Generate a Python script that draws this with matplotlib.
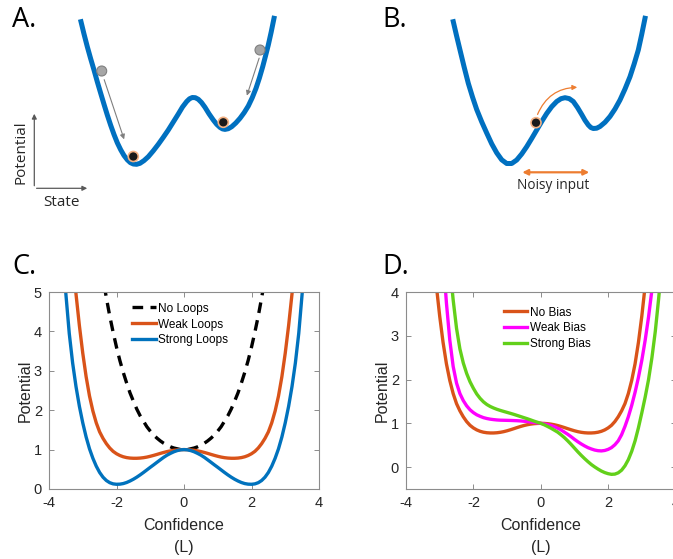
import numpy as np
import matplotlib
matplotlib.use('Agg')
import matplotlib.pyplot as plt
from matplotlib.patches import Circle

plt.rcParams['font.family'] = 'Liberation Sans'
plt.rcParams['axes.unicode_minus'] = False

L = np.round(np.arange(-3.6, 3.65, 0.1), 1)

no_loops = [16.0, 14.7, 13.5, 12.4, 11.4, 10.4, 9.5, 8.7, 7.9, 7.18,
            6.51, 5.91, 5.35, 4.85, 4.39, 3.98, 3.6, 3.26, 2.96, 2.69,
            2.44, 2.23, 2.03, 1.86, 1.72, 1.58, 1.47, 1.37, 1.29, 1.22,
            1.16, 1.11, 1.07, 1.04, 1.02, 1.0, 1.0,
            1.0, 1.02, 1.04, 1.07, 1.11, 1.16, 1.22, 1.29, 1.37, 1.47,
            1.58, 1.72, 1.86, 2.03, 2.23, 2.44, 2.69, 2.96, 3.26, 3.6,
            3.98, 4.39, 4.85, 5.35, 5.91, 6.51, 7.18, 7.9, 8.7, 9.5,
            10.4, 11.4, 12.4, 13.5, 14.7, 16.0]
weak_loops = [9.15, 7.95, 6.85, 5.85, 4.95, 4.15, 3.45, 2.85, 2.36, 1.98,
              1.68, 1.45, 1.285, 1.15, 1.04, 0.955, 0.895, 0.85, 0.818, 0.797,
              0.785, 0.78, 0.78, 0.785, 0.795, 0.81, 0.83, 0.853, 0.878, 0.904,
              0.928, 0.95, 0.968, 0.982, 0.992, 0.998, 1.0,
              0.998, 0.992, 0.982, 0.968, 0.95, 0.928, 0.904, 0.878, 0.853, 0.83,
              0.81, 0.795, 0.785, 0.78, 0.78, 0.785, 0.797, 0.818, 0.85, 0.895,
              0.955, 1.04, 1.15, 1.285, 1.45, 1.68, 1.98, 2.36, 2.85, 3.45,
              4.15, 4.95, 5.85, 6.85, 7.95, 9.15]
strong_loops = [6.1, 4.95, 3.95, 3.2, 2.6, 2.1, 1.68, 1.32, 1.02, 0.78,
                0.58, 0.42, 0.3, 0.215, 0.16, 0.13, 0.12, 0.123, 0.138, 0.165,
                0.203, 0.248, 0.3, 0.358, 0.42, 0.485, 0.55, 0.613, 0.678, 0.742,
                0.805, 0.86, 0.905, 0.945, 0.975, 0.994, 1.0,
                0.994, 0.975, 0.945, 0.905, 0.86, 0.805, 0.742, 0.678, 0.613, 0.55,
                0.485, 0.42, 0.358, 0.3, 0.248, 0.203, 0.165, 0.138, 0.123, 0.12,
                0.13, 0.16, 0.215, 0.3, 0.42, 0.58, 0.78, 1.02, 1.32, 1.68,
                2.1, 2.6, 3.2, 3.95, 4.95, 6.1]

no_bias = weak_loops
weak_bias = [12.5, 11.4, 10.3, 9.2, 8.1, 7.0, 5.9, 4.8, 3.75, 2.9,
             2.3, 1.92, 1.68, 1.52, 1.40, 1.31, 1.245, 1.195, 1.16, 1.13,
             1.11, 1.095, 1.085, 1.077, 1.072, 1.07, 1.068, 1.066, 1.063, 1.06,
             1.055, 1.048, 1.04, 1.03, 1.02, 1.01, 1.0,
             0.987, 0.972, 0.952, 0.925, 0.89, 0.85, 0.80, 0.75, 0.695, 0.635,
             0.58, 0.53, 0.485, 0.445, 0.415, 0.39, 0.375, 0.37, 0.38, 0.405,
             0.445, 0.51, 0.60, 0.74, 0.93, 1.15, 1.41, 1.71, 2.05, 2.44,
             2.9, 3.43, 4.05, 4.75, 5.5, 6.3]
strong_bias = [13.5, 12.5, 11.5, 10.5, 9.5, 8.5, 7.5, 6.5, 5.5, 4.6,
               3.82, 3.17, 2.7, 2.38, 2.14, 1.95, 1.80, 1.67, 1.57, 1.49,
               1.43, 1.385, 1.35, 1.32, 1.295, 1.272, 1.25, 1.228, 1.205, 1.18,
               1.155, 1.13, 1.105, 1.078, 1.05, 1.025, 1.0,
               0.968, 0.93, 0.89, 0.845, 0.80, 0.74, 0.675, 0.60, 0.52, 0.435,
               0.35, 0.27, 0.195, 0.125, 0.06, 0.005, -0.045, -0.09, -0.125, -0.15,
               -0.165, -0.16, -0.13, -0.07, 0.03, 0.17, 0.36, 0.6, 0.9, 1.24,
               1.6, 2.0, 2.5, 3.1, 3.85, 4.7]

labels_c = ['No Loops', 'Weak Loops', 'Strong Loops']
labels_d = ['No Bias', 'Weak Bias', 'Strong Bias']
ticks_x = [-4, -2, 0, 2, 4]

# ---- schematic wells for A / B (pixel coords of the picture) ----
well_a_x = [81, 84, 87.3, 90.6, 94, 97.3, 100.7, 104, 107.3, 110.7, 114, 117.3,
            120.7, 124, 127.3, 130.3, 133.3, 136.6, 140, 144, 148.3, 153.3,
            158.3, 163.3, 168.3, 173.3, 178.3, 182.5, 186.7, 189.5, 192.3, 195.3,
            198.3, 201.5, 205, 209, 213.3, 216.7, 220, 222.5, 225, 228.3, 231.7,
            235.8, 240, 244.2, 248.3, 252.2, 256, 259.4, 262.7, 265.5, 268.3,
            271.2, 274]
well_a_y = [21.7, 34, 46.7, 58.5, 70, 81.8, 93.3, 104.3, 115, 125.3, 134.5, 142.8,
            149.8, 155.5, 159.8, 162.6, 164, 164.3, 163.3, 160.6, 156.7, 150.8,
            144.3, 137.3, 130, 122, 114, 107, 101.5, 98.8, 97.5, 97.7,
            99.3, 102.5, 107.3, 113.8, 120, 124.3, 127.4, 128.9, 129.4, 128.7, 126.7,
            123, 118.3, 112.6, 106, 97.8, 88.3, 78, 66.7, 56, 45,
            32, 18.3]
well_b_x = [453.3, 456.5, 460, 464, 468.3, 472.5, 476.7, 481.7, 486.7, 491.7,
            496.7, 501.7, 506.7, 511.7, 516.7, 521.7, 526.7, 531.7, 536.7, 541.7,
            546.7, 551.7, 556.7, 561, 565, 569.2, 573.3, 577.5, 581.7, 585,
            588.3, 590.8, 593.3, 596.7, 600, 605, 610, 615, 620, 625,
            630, 634.2, 638.3, 641.7, 645]
well_b_y = [21.7, 35.5, 50, 66.5, 83.3, 97, 109.5, 121.8, 133, 143.8,
            152.8, 159.8, 163.5, 163.5, 160, 154, 146.7, 138.5, 130, 121.5,
            113.5, 106.7, 101.5, 98.7, 97.7, 98.6, 101.5, 107.5, 114.5, 120.3,
            125, 127.5, 128.5, 128.2, 126.5, 122.3, 116.5, 109, 100, 89,
            76.7, 63.8, 50, 34.5, 18.3]

W, H = 673, 559
fig = plt.figure(figsize=(W / 100, H / 100), dpi=100)

blue = '#0072BD'
orange = '#D95319'
magenta = '#FF00FF'
green = '#62D01A'

# schematic layer in pixel coordinates
sk = fig.add_axes([0, 0, 1, 1])
sk.set_xlim(0, W)
sk.set_ylim(H, 0)
sk.axis('off')

sk.plot(well_a_x, well_a_y, color='#0070C0', lw=3.6, solid_joinstyle='round')
sk.plot(well_b_x, well_b_y, color='#0070C0', lw=3.6, solid_joinstyle='round')

for (cx, cy) in [(101.7, 71), (260, 50)]:
    sk.add_patch(Circle((cx, cy), 5, facecolor='#A6A6A6', edgecolor='#7F7F7F', lw=0.8, zorder=5))
for (cx, cy) in [(133.3, 156.5), (223.3, 122.3), (536, 122.7)]:
    sk.add_patch(Circle((cx, cy), 5, facecolor='#1a1a1a', edgecolor='#F4B183', lw=1.2, zorder=5))

gray_arrow = dict(arrowstyle='-|>', color='#7F7F7F', lw=0.8, mutation_scale=7)
sk.annotate('', xy=(125, 142), xytext=(103.3, 77), arrowprops=gray_arrow)
sk.annotate('', xy=(246, 98.3), xytext=(260, 55.5), arrowprops=gray_arrow)

axis_arrow = dict(arrowstyle='-|>', color='#595959', lw=0.9, mutation_scale=7)
sk.annotate('', xy=(34.3, 111), xytext=(34.3, 188.5), arrowprops=axis_arrow)
sk.annotate('', xy=(90, 188.3), xytext=(33.8, 188.3), arrowprops=axis_arrow)
sk.text(21.5, 152, 'Potential', rotation=90, ha='center', va='center',
        fontsize=11, family='Open Sans', color='#262626')
sk.text(61.5, 202.5, 'State', ha='center', va='center',
        fontsize=11, family='Open Sans', color='#262626')

sk.annotate('', xy=(580, 87.3), xytext=(536.5, 117),
            arrowprops=dict(arrowstyle='-|>', color='#ED7D31', lw=0.9,
                            mutation_scale=7, connectionstyle='arc3,rad=-0.35'))
sk.annotate('', xy=(592, 172.3), xytext=(519.5, 172.3),
            arrowprops=dict(arrowstyle='<|-|>', color='#ED7D31', lw=1.6, mutation_scale=8))
sk.text(553.5, 185.5, 'Noisy input', ha='center', va='center',
        fontsize=9.8, family='Open Sans', color='#262626')

for lab, (px, py) in zip(['A.', 'B.', 'C.', 'D.'],
                         [(12, 20), (382, 20), (12, 267), (382, 267)]):
    sk.text(px, py, lab, ha='left', va='center', fontsize=19.5,
            family='Open Sans', color='black')


def style_axes(ax):
    for s in ax.spines.values():
        s.set_color('#8c8c8c')
        s.set_linewidth(0.8)
    ax.tick_params(direction='in', top=True, right=True, length=3.5,
                   width=0.7, color='#8c8c8c', labelsize=10.5,
                   labelcolor='#262626', pad=5)
    ax.set_xticks(ticks_x)
    ax.set_xlabel('Confidence\n(L)', fontsize=11.5, color='#262626',
                  linespacing=1.6, labelpad=6)
    ax.set_ylabel('Potential', fontsize=11.5, color='#262626', labelpad=1)


# ---- panel C ----
axc = fig.add_axes([49 / W, 1 - 489 / H, 270 / W, 197 / H])
axc.plot(L, no_loops, color='black', lw=2.4, ls=(0, (3.2, 2.2)), label=labels_c[0])
axc.plot(L, weak_loops, color=orange, lw=2.4, label=labels_c[1])
axc.plot(L, strong_loops, color=blue, lw=2.4, label=labels_c[2])
axc.set_xlim(-4, 4)
axc.set_ylim(0, 5)
axc.set_yticks([0, 1, 2, 3, 4, 5])
style_axes(axc)
axc.legend(loc='upper left', bbox_to_anchor=(0.269, 1.0), frameon=False,
           fontsize=8.5, handlelength=2.0, handletextpad=0.2, labelspacing=0.33,
           borderaxespad=0.5)

# ---- panel D ----
axd = fig.add_axes([406 / W, 1 - 489 / H, 269.5 / W, 197 / H])
axd.plot(L, no_bias, color=orange, lw=2.4, label=labels_d[0])
axd.plot(L, weak_bias, color=magenta, lw=2.4, label=labels_d[1])
axd.plot(L, strong_bias, color=green, lw=2.4, label=labels_d[2])
axd.set_xlim(-4, 4)
axd.set_ylim(-0.5, 4)
axd.set_yticks([0, 1, 2, 3, 4])
style_axes(axd)
axd.legend(loc='upper left', bbox_to_anchor=(0.3226, 0.98), frameon=False,
           fontsize=8.5, handlelength=2.0, handletextpad=0.2, labelspacing=0.33,
           borderaxespad=0.5)

fig.savefig('out.png', dpi=100)
